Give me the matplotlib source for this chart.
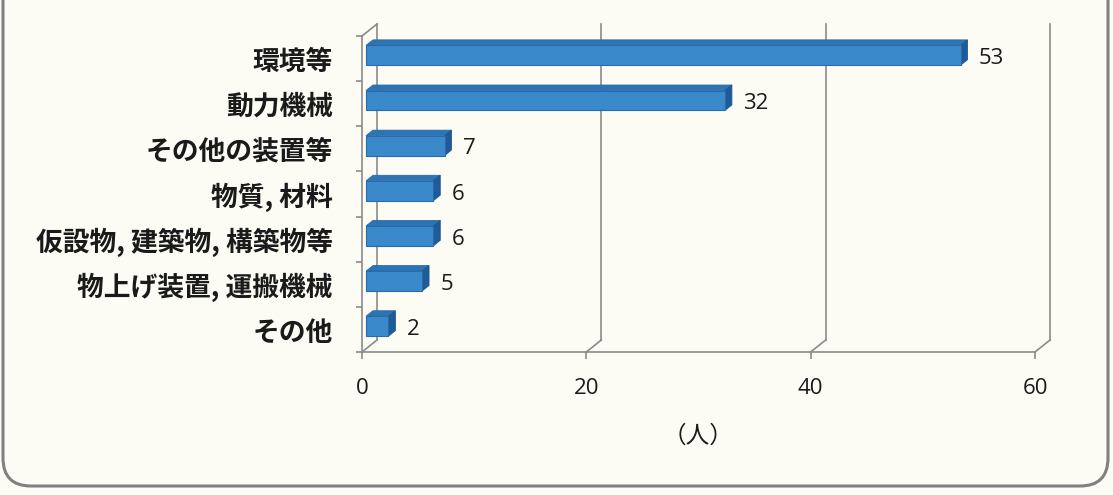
import matplotlib.pyplot as plt
from matplotlib.patches import Polygon, FancyBboxPatch

plt.rcParams['font.family'] = ['Noto Sans CJK JP', 'DejaVu Sans']

# data
categories = ['環境等', '動力機械', 'その他の装置等', '物質, 材料',
              '仮設物, 建築物, 構築物等', '物上げ装置, 運搬機械', 'その他']
counts = [53, 32, 7, 6, 6, 5, 2]
xticks = [0, 20, 40, 60]
unit_label = '（人）'

W, H = 1113, 495
bg = '#fcfcf5'
grid_col = '#8a8a8a'
face_col = '#3a8acb'
top_col = '#2d74b6'
side_col = '#1f5b99'

fig = plt.figure(figsize=(W / 100, H / 100), dpi=100, facecolor=bg)

# rounded frame around the whole panel (top edge runs off the page)
frame = FancyBboxPatch((0.03, 0.09), 11.05, 5.5,
                       boxstyle='round,pad=0,rounding_size=0.28',
                       transform=fig.dpi_scale_trans, fc='none',
                       ec='#808080', lw=2.2, zorder=0)
fig.patches.append(frame)

ax = fig.add_axes([362 / W, 1 - 352 / H, (1035 - 362) / W, (352 - 36) / H])
n = len(categories)
ax.set_xlim(0, 60)
ax.set_ylim(n - 0.5, -0.5)
ax.set_facecolor('none')
for s in ax.spines.values():
    s.set_visible(False)

# pixel size of one data unit, used to turn the 3d depth into data offsets
px_x = ax.get_position().width * W / 60
px_y = ax.get_position().height * H / n


def depth(t):
    return 15 * t / px_x, -12 * t / px_y


bx, by = depth(1.0)
y_top, y_bot = -0.5, n - 0.5
lk = dict(color=grid_col, lw=1.2, clip_on=False, zorder=1)

# back wall gridlines and floor edges
for xt in xticks:
    ax.plot([xt + bx, xt + bx], [y_bot + by, y_top + by], **lk)
    ax.plot([xt, xt + bx], [y_bot, y_bot + by], **lk)
ax.plot([0, 60], [y_bot, y_bot], **lk)
ax.plot([0, 0], [y_bot, y_top], **lk)
ax.plot([0, bx], [y_top, y_top + by], **lk)

# 3d bars
fx, fy = depth(0.27)
kx, ky = depth(0.73)
h = 0.44
for i, v in enumerate(counts):
    y0, y1 = i - h / 2, i + h / 2
    ax.barh(i + fy, v, left=fx, height=h, color=face_col,
            edgecolor='#2a6aa8', lw=0.8, zorder=3)
    top = [(fx, y0 + fy), (fx + v, y0 + fy), (kx + v, y0 + ky), (kx, y0 + ky)]
    side = [(fx + v, y0 + fy), (kx + v, y0 + ky), (kx + v, y1 + ky), (fx + v, y1 + fy)]
    ax.add_patch(Polygon(top, closed=True, fc=top_col, ec='#2a6aa8', lw=0.6, zorder=2))
    ax.add_patch(Polygon(side, closed=True, fc=side_col, ec='#1d5590', lw=0.6, zorder=2))
    ax.annotate(str(v), (v, i), xytext=(16, 0), textcoords='offset points',
                va='center', ha='left', fontsize=16, family='Open Sans',
                color='#1a1a1a')

ax.set_yticks(range(n))
ax.set_yticklabels(categories, fontsize=19.3, fontweight='bold', color='#1a1a1a')
ax.set_yticks([i - 0.5 for i in range(n + 1)], minor=True)
ax.tick_params(axis='y', which='major', length=0, pad=21)
ax.tick_params(axis='y', which='minor', length=4, color=grid_col, width=1.2)

ax.set_xticks(xticks)
ax.set_xticklabels([str(t) for t in xticks], family='Open Sans', fontsize=16,
                   color='#1a1a1a')
ax.tick_params(axis='x', length=5, color=grid_col, width=1.2, pad=14)
ax.set_xlabel(unit_label, fontsize=17, color='#1a1a1a', labelpad=18)

fig.savefig('out.png', dpi=100, facecolor=bg)
